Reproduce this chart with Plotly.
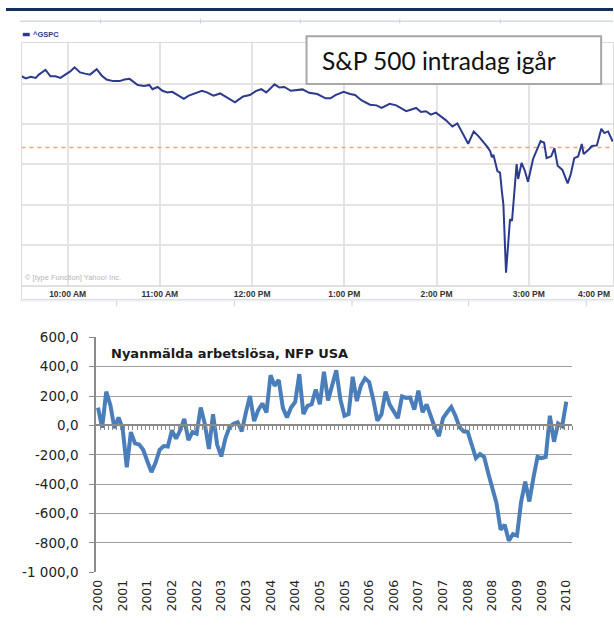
import plotly.graph_objects as go

# ---------------- S&P 500 intraday (minutes after 09:30 open, index level) ----------------
spx_minutes = [0, 2.8, 6.0, 9.2, 11.3, 15.6, 18.8, 22.1, 25.3, 28.5, 31.7, 34.5, 38.1, 41.3, 44.6,
               48.9, 52.1, 55.3, 59.5, 63.8, 67.0, 70.3, 73.5, 75.6, 79.9, 83.1, 85.2, 88.5, 91.7,
               94.9, 98.1, 101.3, 105.6, 108.8, 113.1, 117.4, 120.6, 124.9, 129.2, 132.4, 135.6,
               138.9, 141.0, 144.2, 148.5, 152.7, 156.0, 159.2, 161.4, 164.6, 167.8, 171.0, 175.2,
               179.6, 182.8, 187.1, 192.4, 197.8, 201.0, 204.2, 209.6, 213.8, 217.0, 221.3, 226.7,
               231.0, 234.2, 239.5, 243.8, 250.3, 256.7, 259.9, 263.1, 266.3, 269.6, 276.0, 280.3,
               283.5, 286.7, 290.6, 294.2, 297.4, 302.8, 304.9, 306.0, 307.0, 309.6, 311.3, 312.4,
               313.5, 315.2, 316.7, 317.8, 319.1, 320.5, 322.1, 323.1, 325.3, 327.4, 329.5, 332.8,
               336.0, 337.7, 340.0, 341.6, 344.6, 346.7, 348.8, 351.9, 355.3, 357.4, 359.6, 362.1,
               364.5, 365.7, 369.2, 371.1, 374.3, 377.2, 379.2, 381.6, 384.6]
spx_level = [1163.6, 1162.5, 1163.3, 1162.8, 1164.4, 1166.8, 1163.6, 1163.6, 1162.8, 1164.4, 1166.0,
             1168.0, 1165.5, 1164.9, 1164.4, 1167.1, 1164.0, 1162.0, 1161.2, 1161.2, 1162.0, 1162.3,
             1160.4, 1159.3, 1158.8, 1159.3, 1157.2, 1158.3, 1156.4, 1155.6, 1155.9, 1154.3, 1152.4,
             1154.0, 1155.3, 1156.4, 1155.6, 1154.0, 1155.1, 1153.6, 1152.4, 1150.7, 1151.9, 1153.6,
             1154.3, 1156.4, 1157.2, 1155.6, 1157.2, 1159.6, 1158.0, 1158.3, 1156.4, 1156.7, 1157.1,
             1155.4, 1154.8, 1152.7, 1152.7, 1154.3, 1155.9, 1154.8, 1154.3, 1151.6, 1149.5, 1149.2,
             1147.9, 1150.0, 1149.2, 1146.3, 1147.9, 1145.9, 1146.3, 1144.6, 1145.6, 1141.9, 1138.7,
             1140.3, 1136.0, 1130.2, 1136.3, 1133.9, 1128.9, 1126.6, 1123.6, 1124.8, 1116.7, 1115.9,
             1107.4, 1100.1, 1066.4, 1081.7, 1092.9, 1092.1, 1107.7, 1120.2, 1112.8, 1120.7, 1117.0,
             1111.4, 1122.7, 1128.3, 1131.5, 1130.7, 1123.1, 1124.0, 1128.0, 1119.3, 1117.3, 1110.6,
             1115.4, 1123.1, 1123.9, 1130.1, 1125.1, 1127.5, 1129.1, 1129.4, 1137.6, 1135.5, 1136.3,
             1131.3]
spx_ref_level = 1128.3
spx_grid_levels = [1060, 1080, 1100, 1120, 1140, 1160, 1180]
spx_hour_ticks = [30, 90, 150, 210, 270, 330]
spx_hour_labels = ["10:00 AM", "11:00 AM", "12:00 PM", "1:00 PM", "2:00 PM", "3:00 PM"]
spx_close_label = "4:00 PM"
spx_title = "S&P 500 intradag igår"
spx_symbol = "^GSPC"

# ---------------- NFP USA (monthly change, thousands; Sep 2000 .. Mar 2010) ----------------
nfp_values = [122, -15, 230, 140, -18, 55, -22, -285, -45, -122,
              -129, -166, -244, -318, -255, -166, -140, -144, -33, -89,
              -33, 44, -100, -45, -56, 122, 11, -160, 77, -130,
              -211, -89, -11, 11, 22, -40, 88, 200, 30, 105,
              150, 88, 343, 270, 310, 120, 55, 122, 160, 350,
              77, 133, 144, 244, 144, 366, 170, 266, 376, 177,
              66, 77, 332, 166, 270, 321, 295, 177, 33, 75,
              230, 142, 100, 50, 198, 188, 190, 108, 237, 90,
              144, 55, -15, -73, 50, 90, 126, 66, -11, -40,
              -44, -133, -222, -195, -215, -325, -430, -530, -710, -676,
              -785, -740, -750, -520, -382, -518, -355, -213, -222, -215,
              66, -111, 13, -5, 162]
nfp_slots = 116
nfp_tick_labels = ["2000", "2001", "2001", "2002", "2002", "2003", "2003", "2004", "2004", "2005",
                   "2005", "2006", "2006", "2007", "2007", "2008", "2008", "2009", "2009", "2010"]
nfp_tick_step = 6
nfp_y_ticks = [600, 400, 200, 0, -200, -400, -600, -800, -1000]
nfp_y_labels = ["600,0", "400,0", "200,0", "0,0", "-200,0", "-400,0", "-600,0", "-800,0", "-1 000,0"]
nfp_title = "Nyanmälda arbetslösa, NFP USA"

W, H = 614, 628
def px(x): return x / W
def py(y): return 1 - y / H

nfp_x = list(range(len(nfp_values)))
nfp_tick_idx = [i * nfp_tick_step for i in range(len(nfp_tick_labels))]

fig = go.Figure()

# top chart
fig.add_trace(go.Scatter(x=[spx_minutes[0], spx_minutes[-1]], y=[spx_ref_level, spx_ref_level],
                         mode="lines", line=dict(color="#f2a07e", width=1.5, dash="4px,4px"),
                         xaxis="x", yaxis="y", hoverinfo="skip", showlegend=False))
fig.add_trace(go.Scatter(x=spx_minutes, y=spx_level, mode="lines",
                         line=dict(color="#2b3a8c", width=2),
                         xaxis="x", yaxis="y", showlegend=False))

# bottom chart
fig.add_trace(go.Scatter(x=nfp_x, y=nfp_values, mode="lines",
                         line=dict(color="#4a7ebb", width=4),
                         xaxis="x2", yaxis="y2", showlegend=False))
fig.add_trace(go.Scatter(x=[nfp_x[0]], y=[None], mode="lines", xaxis="x3", yaxis="y2",
                         showlegend=False, hoverinfo="skip"))

# domains
top_dom_y = [py(285), py(36)]
bot_dom_y = [py(579), py(338)]
yr = [-1000, 600]
zero_pos = bot_dom_y[0] + (0 - yr[0]) / (yr[1] - yr[0]) * (bot_dom_y[1] - bot_dom_y[0])

fig.update_layout(
    width=W, height=H, autosize=False,
    margin=dict(l=0, r=0, t=0, b=0),
    paper_bgcolor="white", plot_bgcolor="white",
    xaxis=dict(domain=[px(15.7), 1], range=[0, 384.8], anchor="y",
               tickvals=spx_hour_ticks, ticktext=spx_hour_labels,
               showgrid=True, gridcolor="#e4e4e4", gridwidth=1.5,
               showline=True, linecolor="#dcdcdc", linewidth=1, mirror=True,
               ticks="", zeroline=False,
               tickfont=dict(family="Liberation Sans", size=8.5, color="#333333", weight="bold")),
    yaxis=dict(domain=top_dom_y, range=[1060, 1180], anchor="x",
               tickvals=spx_grid_levels, showticklabels=False,
               showgrid=True, gridcolor="#e4e4e4", gridwidth=1.5,
               showline=True, linecolor="#dcdcdc", mirror=True, ticks="", zeroline=False),
    xaxis2=dict(domain=[px(91), px(573)], range=[-0.5, nfp_slots - 0.5], anchor="y2",
                tickvals=nfp_tick_idx, ticktext=nfp_tick_labels, tickangle=-90,
                showgrid=False, zeroline=False, showline=False, ticks="",
                ticklabelstandoff=4,
                tickfont=dict(family="DejaVu Sans", size=12.5, color="#222222")),
    xaxis3=dict(overlaying="x2", anchor="free", position=zero_pos,
                range=[-0.5, nfp_slots - 0.5], tickmode="linear", tick0=-0.5, dtick=1,
                ticks="outside", ticklen=4, tickcolor="#8a8a8a", tickwidth=1,
                showline=True, linecolor="#8a8a8a", linewidth=1.5,
                showticklabels=False, showgrid=False, zeroline=False),
    yaxis2=dict(domain=bot_dom_y, range=yr, anchor="x2",
                tickvals=nfp_y_ticks, ticktext=nfp_y_labels,
                showgrid=True, gridcolor="#a0a0a0", gridwidth=1,
                showline=True, linecolor="#8a8a8a", linewidth=1.5,
                ticks="outside", ticklen=5, tickcolor="#8a8a8a", ticklabelstandoff=8,
                zeroline=False,
                tickfont=dict(family="DejaVu Sans", size=13.5, color="#222222")),
)

shapes = [
    dict(type="rect", xref="paper", yref="paper", x0=0, x1=1, y0=py(3), y1=1,
         fillcolor="#14305a", line=dict(width=0), layer="above"),
    dict(type="line", xref="paper", yref="paper", x0=px(14), x1=1, y0=py(13.5), y1=py(13.5),
         line=dict(color="#d3d9e6", width=1.5)),
    dict(type="rect", xref="paper", yref="paper", x0=px(15.7), x1=1.01, y0=py(299), y1=py(285),
         line=dict(color="#dcdcdc", width=1), fillcolor="rgba(0,0,0,0)"),
    dict(type="line", xref="paper", yref="paper", x0=px(14), x1=1, y0=py(300.5), y1=py(300.5),
         line=dict(color="#e3e7ef", width=1)),
    dict(type="rect", xref="paper", yref="paper", x0=px(17), x1=px(24), y0=py(29), y1=py(25.5),
         fillcolor="#2b3a8c", line=dict(width=0)),
    dict(type="rect", xref="paper", yref="paper", x0=px(304), x1=px(602), y0=py(78), y1=py(29),
         fillcolor="white", line=dict(color="#a8a8a8", width=2)),
]
for tx in [95.7, 196.7, 297.7, 398.3, 500]:
    shapes.append(dict(type="line", xref="paper", yref="paper", x0=px(tx), x1=px(tx),
                       y0=py(16), y1=py(11), line=dict(color="#c9d1e2", width=1)))
for tx in [112, 231, 350, 468, 587]:
    shapes.append(dict(type="line", xref="paper", yref="paper", x0=px(tx), x1=px(tx),
                       y0=py(306), y1=py(300.5), line=dict(color="#c9d1e2", width=1)))
fig.update_layout(shapes=shapes)

annotations = [
    dict(text=spx_symbol, xref="paper", yref="paper", x=px(25.5), y=py(27.5),
         xanchor="left", yanchor="middle", showarrow=False,
         font=dict(family="Liberation Sans", size=7.5, color="#2b3a8c", weight="bold")),
    dict(text="© [type Function] Yahoo! Inc.", xref="paper", yref="paper", x=px(17), y=py(277),
         xanchor="left", yanchor="middle", showarrow=False,
         font=dict(family="Liberation Sans", size=7.5, color="#b5b5b5")),
    dict(text=spx_close_label, xref="paper", yref="paper", x=px(613), y=py(293),
         xanchor="right", yanchor="middle", showarrow=False,
         font=dict(family="Liberation Sans", size=8.5, color="#333333", weight="bold")),
    dict(text=spx_title, xref="paper", yref="paper", x=px(318), y=py(54),
         xanchor="left", yanchor="middle", showarrow=False,
         font=dict(family="Lato", size=24.5, color="#111111")),
    dict(text=nfp_title, xref="paper", yref="paper", x=px(104), y=py(355),
         xanchor="left", yanchor="middle", showarrow=False,
         font=dict(family="DejaVu Sans", size=13, color="#1a1a1a", weight="bold")),
]
fig.update_layout(annotations=annotations)

fig.write_html("out.html", config={"displayModeBar": False},
               post_script="document.body.style.margin='0';document.body.style.overflow='hidden';")
